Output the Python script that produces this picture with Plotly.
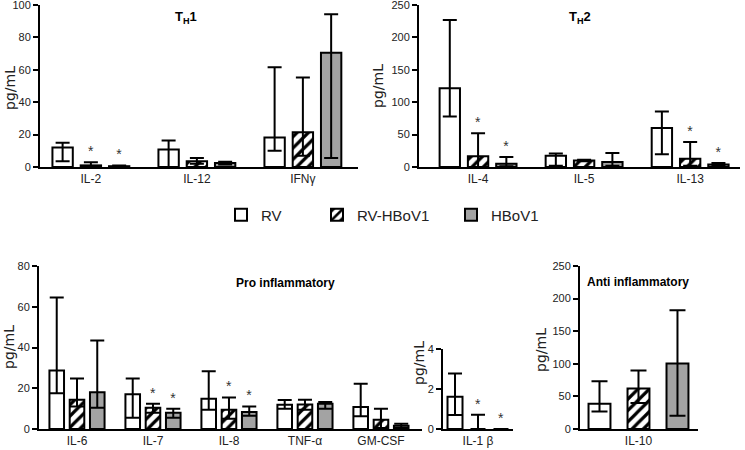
import plotly.graph_objects as go

# ---------------- data ----------------
groups = ["RV", "RV-HBoV1", "HBoV1"]

th1_cats = ["IL-2", "IL-12", "IFNγ"]
th1_rv = [12.1, 10.8, 18.2]
th1_rv_lo = [3.5, 0.0, 10.0]
th1_rv_hi = [15.0, 16.4, 61.5]
th1_rvh = [1.0, 3.5, 21.5]
th1_rvh_lo = [0.0, 2.0, 7.0]
th1_rvh_hi = [3.0, 5.5, 55.3]
th1_hb = [0.5, 2.5, 70.5]
th1_hb_lo = [0.3, 1.5, 5.5]
th1_hb_hi = [1.0, 3.3, 94.3]
th1_star_rvh = ["*", "", ""]
th1_star_hb = ["*", "", ""]

th2_cats = ["IL-4", "IL-5", "IL-13"]
th2_rv = [121.4, 17.4, 60.0]
th2_rv_lo = [78.0, 2.0, 19.5]
th2_rv_hi = [227.0, 21.0, 85.5]
th2_rvh = [16.4, 10.0, 12.8]
th2_rvh_lo = [0.0, 9.0, 2.0]
th2_rvh_hi = [52.0, 11.0, 38.4]
th2_hb = [5.0, 7.7, 4.0]
th2_hb_lo = [1.0, 2.0, 2.0]
th2_hb_hi = [15.4, 21.5, 6.0]
th2_star_rvh = ["*", "", "*"]
th2_star_hb = ["*", "", "*"]

pro_cats = ["IL-6", "IL-7", "IL-8", "TNF-α", "GM-CSF"]
pro_rv = [28.7, 17.1, 14.9, 11.9, 10.8]
pro_rv_lo = [17.5, 5.5, 9.5, 10.0, 6.2]
pro_rv_hi = [64.5, 24.8, 28.4, 14.2, 22.2]
pro_rvh = [14.4, 10.4, 9.5, 12.0, 4.6]
pro_rvh_lo = [11.0, 8.0, 5.0, 9.5, 0.5]
pro_rvh_hi = [24.8, 12.4, 15.5, 14.4, 10.0]
pro_hb = [18.0, 8.0, 8.3, 12.4, 1.6]
pro_hb_lo = [10.4, 5.5, 6.5, 10.0, 0.5]
pro_hb_hi = [43.4, 10.0, 11.1, 13.2, 2.6]
pro_star_rvh = ["", "*", "*", "", ""]
pro_star_hb = ["", "*", "*", "", ""]

il1_cats = ["IL-1 β"]
il1_rv = [1.61]
il1_rv_lo = [0.7]
il1_rv_hi = [2.77]
il1_rvh = [0.0]
il1_rvh_lo = [0.0]
il1_rvh_hi = [0.71]
il1_hb = [0.0]
il1_hb_lo = [0.0]
il1_hb_hi = [0.0]
il1_star_rvh = ["*"]
il1_star_hb = ["*"]

anti_cats = ["IL-10"]
anti_rv = [38.7]
anti_rv_lo = [27.0]
anti_rv_hi = [73.3]
anti_rvh = [62.1]
anti_rvh_lo = [39.7]
anti_rvh_hi = [89.6]
anti_hb = [100.3]
anti_hb_lo = [20.4]
anti_hb_hi = [182.3]
anti_star_rvh = [""]
anti_star_hb = [""]

# ---------------- styles ----------------
W, H = 745, 450
GRAY = "#a3a3a3"
TICKFONT = dict(family="Liberation Sans Narrow, Liberation Sans, Arial", size=11, color="#222")
CATFONT = dict(family="Liberation Sans Narrow, Liberation Sans, Arial", size=12, color="#222")
styles = {
    "RV": dict(color="white", line=dict(color="black", width=2)),
    "RV-HBoV1": dict(color="white", line=dict(color="black", width=2),
                     pattern=dict(shape="/", fgcolor="black", bgcolor="white", size=8, solidity=0.4)),
    "HBoV1": dict(color=GRAY, line=dict(color="black", width=2)),
}
legend_ids = {"RV": "legend", "RV-HBoV1": "legend2", "HBoV1": "legend3"}

fig = go.Figure()


def px_x(p):
    return p / W


def px_y(p):
    return 1 - p / H


def add_panel(idx, cats, series, stars, capw, barw=None, legend=False):
    xa = "x" if idx == 1 else f"x{idx}"
    ya = "y" if idx == 1 else f"y{idx}"
    for g, (vals, lo, hi) in zip(groups, series):
        plus = [h - v for v, h in zip(vals, hi)]
        minus = [v - l for v, l in zip(vals, lo)]
        kw = {}
        if barw is not None:
            kw["width"] = barw
        fig.add_trace(go.Bar(
            x=cats, y=vals, name=g, xaxis=xa, yaxis=ya,
            marker=styles[g], offsetgroup=g, legendgroup=g, showlegend=legend,
            legend=legend_ids[g],
            error_y=dict(type="data", symmetric=False, array=plus, arrayminus=minus,
                         color="black", thickness=2, width=capw),
            hoverinfo="skip", **kw))
    # significance stars drawn above whisker tops
    for g, (vals, lo, hi), st in zip(groups, series, stars):
        if st is None:
            continue
        sx = [c for c, s in zip(cats, st) if s]
        sy = [h for h, s in zip(hi, st) if s]
        if not sx:
            continue
        kw = {}
        if barw is not None:
            kw["width"] = barw
        fig.add_trace(go.Bar(
            x=sx, y=sy, xaxis=xa, yaxis=ya, offsetgroup=g, showlegend=False,
            marker=dict(color="rgba(0,0,0,0)", line=dict(width=0)),
            text=["*"] * len(sx), textposition="outside", cliponaxis=False, constraintext="none",
            textfont=dict(family="Liberation Sans, Arial", size=14, color="#333"),
            hoverinfo="skip", **kw))


add_panel(1, th1_cats,
          [(th1_rv, th1_rv_lo, th1_rv_hi), (th1_rvh, th1_rvh_lo, th1_rvh_hi), (th1_hb, th1_hb_lo, th1_hb_hi)],
          [None, th1_star_rvh, th1_star_hb], 7, legend=True)
add_panel(2, th2_cats,
          [(th2_rv, th2_rv_lo, th2_rv_hi), (th2_rvh, th2_rvh_lo, th2_rvh_hi), (th2_hb, th2_hb_lo, th2_hb_hi)],
          [None, th2_star_rvh, th2_star_hb], 7)
add_panel(3, pro_cats,
          [(pro_rv, pro_rv_lo, pro_rv_hi), (pro_rvh, pro_rvh_lo, pro_rvh_hi), (pro_hb, pro_hb_lo, pro_hb_hi)],
          [None, pro_star_rvh, pro_star_hb], 7)
add_panel(4, il1_cats,
          [(il1_rv, il1_rv_lo, il1_rv_hi), (il1_rvh, il1_rvh_lo, il1_rvh_hi), (il1_hb, il1_hb_lo, il1_hb_hi)],
          [None, il1_star_rvh, il1_star_hb], 7, barw=0.174)
add_panel(5, anti_cats,
          [(anti_rv, anti_rv_lo, anti_rv_hi), (anti_rvh, anti_rvh_lo, anti_rvh_hi), (anti_hb, anti_hb_lo, anti_hb_hi)],
          [None, anti_star_rvh, anti_star_hb], 8, barw=0.15)

yax_common = dict(showline=True, linecolor="black", linewidth=2, ticks="outside", ticklen=5,
                  tickwidth=2, tickcolor="black", showgrid=False, zeroline=False,
                  tickfont=TICKFONT, fixedrange=True, automargin=False,
                  ticklabeloverflow="allow")
xax_common = dict(showline=True, linecolor="black", linewidth=2, ticks="", showgrid=False,
                  zeroline=False, tickfont=CATFONT, type="category", fixedrange=True,
                  automargin=False, ticklabeloverflow="allow")

panels = {
    1: dict(xd=(40, 358), yd=(167, 5), xr=(-0.48, 2.52), yr=(0, 100), dt=20),
    2: dict(xd=(419, 740), yd=(167, 5), xr=(-0.557, 2.47), yr=(0, 250), dt=50),
    3: dict(xd=(39, 422), yd=(429, 266), xr=(-0.5, 4.54), yr=(0, 80), dt=20),
    4: dict(xd=(443, 513), yd=(429, 349), xr=(-0.406, 0.406), yr=(0, 4), dt=2),
    5: dict(xd=(580, 698), yd=(429, 266), xr=(-0.4, 0.407), yr=(0, 250), dt=50),
}
layout = {}
for i, p in panels.items():
    xk = "xaxis" if i == 1 else f"xaxis{i}"
    yk = "yaxis" if i == 1 else f"yaxis{i}"
    ya = "y" if i == 1 else f"y{i}"
    xa = "x" if i == 1 else f"x{i}"
    layout[xk] = dict(xax_common, domain=[px_x(p["xd"][0]), px_x(p["xd"][1])], range=list(p["xr"]),
                      anchor=ya)
    layout[yk] = dict(yax_common, domain=[px_y(p["yd"][0]), px_y(p["yd"][1])], range=list(p["yr"]),
                      dtick=p["dt"], anchor=xa)

fig.update_layout(**layout)

ann = []
ytitle_font = dict(family="DejaVu Sans, Verdana", size=14, color="#222")
for (xp, yp) in [(10, 88), (378, 86), (9, 347), (419, 363), (541, 350)]:
    ann.append(dict(text="pg/mL", x=px_x(xp), y=px_y(yp), xref="paper", yref="paper",
                    textangle=-90, showarrow=False, font=ytitle_font, xanchor="center", yanchor="middle"))
for (txt, xp, yp, fs) in [("<b>T<sub>H</sub>1</b>", 186, 17, 13), ("<b>T<sub>H</sub>2</b>", 580, 17, 13),
                          ("<b>Pro inflammatory</b>", 285, 283, 12), ("<b>Anti inflammatory</b>", 638, 282, 12)]:
    ann.append(dict(text=txt, x=px_x(xp), y=px_y(yp), xref="paper", yref="paper",
                    showarrow=False, font=dict(family="Liberation Sans, Arial", size=fs, color="black"),
                    xanchor="center", yanchor="middle"))

leg_font = dict(family="Liberation Sans, Arial", size=15, color="#222")
leg_common = dict(orientation="h", xanchor="left", y=px_y(215), yanchor="middle",
                  font=leg_font, bgcolor="rgba(0,0,0,0)", borderwidth=0)

fig.update_layout(
    template="none",
    width=W, height=H, margin=dict(l=0, r=0, t=0, b=0, autoexpand=False),
    paper_bgcolor="white", plot_bgcolor="white",
    barmode="group", bargap=0.2, bargroupgap=0.28,
    annotations=ann,
    legend=dict(leg_common, x=px_x(221)),
    legend2=dict(leg_common, x=px_x(317)),
    legend3=dict(leg_common, x=px_x(451)),
    showlegend=True,
)

fig.write_html("out.html", config={"displayModeBar": False},
               post_script="document.body.style.margin='0';document.body.style.overflow='hidden';")
